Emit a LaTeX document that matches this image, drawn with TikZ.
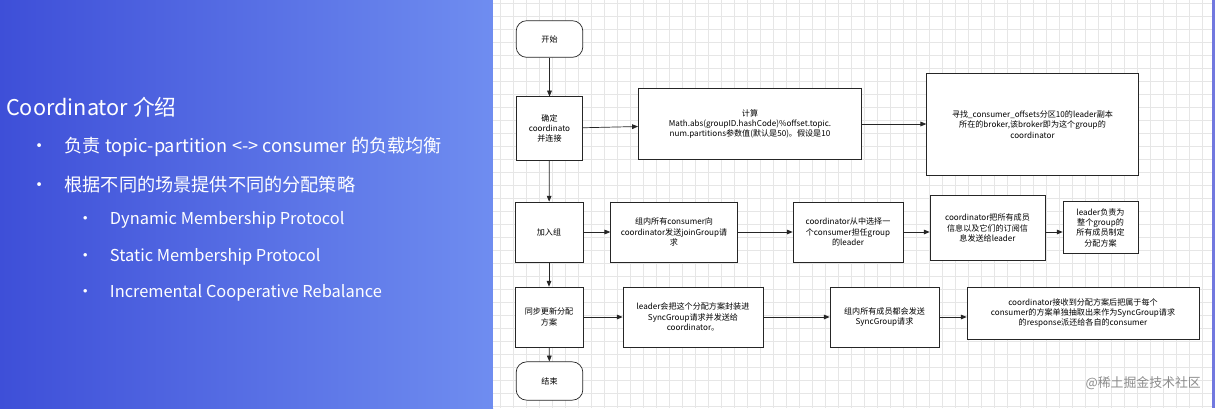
\documentclass[tikz,border=0pt]{standalone}
\usepackage{fontspec}
\setmainfont{Noto Sans CJK SC}
\usetikzlibrary{calc,arrows.meta}
\definecolor{bgL}{HTML}{3E4FD8}
\definecolor{bgR}{HTML}{6F8DF0}
\definecolor{gridc}{HTML}{E6E6E6}
\tikzset{
  fbox/.style={draw=black!85,line width=0.6pt,fill=white,align=center,font=\fontsize{6.9}{8.8}\selectfont,inner sep=1pt},
  term/.style={fbox,rounded corners=9pt},
  arr/.style={-{Triangle[length=5pt,width=4pt]},line width=0.6pt,black!85},
  lt/.style={text=white,anchor=west,font=\fontsize{15.5}{17}\selectfont},
  st/.style={text=white,anchor=west,font=\fontsize{14}{16}\selectfont},
}
\newcommand{\pbar}[2]{\draw[line width=0.6pt,black!85] ($(#1.north west)+(#2,0)$)--($(#1.south west)+(#2,0)$) ($(#1.north east)-(#2,0)$)--($(#1.south east)-(#2,0)$);}
\begin{document}
\begin{tikzpicture}[x=0.03cm,y=-0.03cm]
\useasboundingbox (0,0) rectangle (1215,408);
\shade[left color=bgL,right color=bgR] (0,0) rectangle (493,408);
\fill[bgR!85!violet] (493,0) rectangle (1215,408);
\fill[white] (493,0) rectangle (1212,408);
\foreach \x in {500,513,...,1212} \draw[gridc,line width=0.3pt] (\x,0)--(\x,408);
\foreach \y in {3,16,...,408} \draw[gridc,line width=0.3pt] (493,\y)--(1212,\y);
% left text
\node[lt,font=\fontsize{18.5}{20}\selectfont] (t0) at (2,107) {Coordinator 介绍};
\node[lt] (b1) at (26,147) {•\hspace{0.9em}负责 topic-partition <-> consumer 的负载均衡};
\node[lt] (b2) at (26,185) {•\hspace{0.9em}根据不同的场景提供不同的分配策略};
\node[st] (s1) at (73,220) {•\hspace{1em}Dynamic Membership Protocol};
\node[st] (s2) at (73,257) {•\hspace{1em}Static Membership Protocol};
\node[st] (s3) at (73,293) {•\hspace{1em}Incremental Cooperative Rebalance};
% flowchart
\node[term,minimum width=2.0cm,minimum height=1.1cm] (start) at (549.5,39) {开始};
\node[fbox,minimum width=2.0cm,minimum height=1.9cm] (det) at (549.5,128.5) {确定\\coordinato\\并连接};
\node[fbox,minimum width=6.7cm,minimum height=2.15cm] (calc) at (750,124) {计算\\Math.abs(groupID.hashCode)\%offset.topic.\\num.partitions参数值(默认是50)。假设是10};
\pbar{calc}{0.45}
\node[fbox,minimum width=6.35cm,minimum height=3.05cm] (find) at (1032.5,124.5) {寻找\_consumer\_offsets分区10的leader副本\\所在的broker,该broker即为这个group的\\coordinator};
\node[fbox,minimum width=2.04cm,minimum height=1.8cm] (join) at (549,232) {加入组};
\node[fbox,minimum width=3.8cm,minimum height=1.8cm] (all) at (674,232) {组内所有consumer向\\coordinator发送joinGroup请\\求};
\pbar{all}{0.4}
\node[fbox,minimum width=3.3cm,minimum height=1.8cm] (sel) at (848,232) {coordinator从中选择一\\个consumer担任group\\的leader};
\node[fbox,minimum width=3.45cm,minimum height=1.95cm] (send) at (987.5,228) {coordinator把所有成员\\信息以及它们的订阅信\\息发送给leader};
\node[fbox,minimum width=2.25cm,minimum height=1.55cm] (lead) at (1100.5,227.5) {leader负责为\\整个group的\\所有成员制定\\分配方案};
\node[fbox,minimum width=2.04cm,minimum height=1.8cm] (sync) at (549,317) {同步更新分配\\方案};
\node[fbox,minimum width=4.2cm,minimum height=1.8cm] (pack) at (693,317) {leader会把这个分配方案封装进\\SyncGroup请求并发送给\\coordinator。};
\pbar{pack}{0.39}
\node[fbox,minimum width=3.27cm,minimum height=1.8cm] (mem) at (884.5,317) {组内所有成员都会发送\\SyncGroup请求};
\node[fbox,minimum width=6.96cm,minimum height=1.56cm] (recv) at (1083,313) {coordinator接收到分配方案后把属于每个\\consumer的方案单独抽取出来作为SyncGroup请求\\的response派还给各自的consumer};
\node[term,minimum width=2.0cm,minimum height=1.15cm] (end) at (549.5,381) {结束};
\draw[arr] (start)--(det);
\draw[arr] (det)--(join);
\draw[arr] (join)--(sync);
\draw[arr] (sync)--(end);
\draw[arr] (det)--(calc);
\draw[arr] (calc)--(find.west|-calc);
\draw[arr] (join)--(all);
\draw[arr] (all)--(sel);
\draw[arr] (sel)--(send.west|-sel);
\draw[arr] (send.east|-sel)--(lead.west|-sel);
\draw[arr] (sync)--(pack);
\draw[arr] (pack)--(mem);
\draw[arr] (mem)--(recv.west|-mem);
\node[text=black!45,font=\fontsize{11}{13}\selectfont,anchor=east] (wm) at (1205,383) {@稀土掘金技术社区};
\end{tikzpicture}
\end{document}
